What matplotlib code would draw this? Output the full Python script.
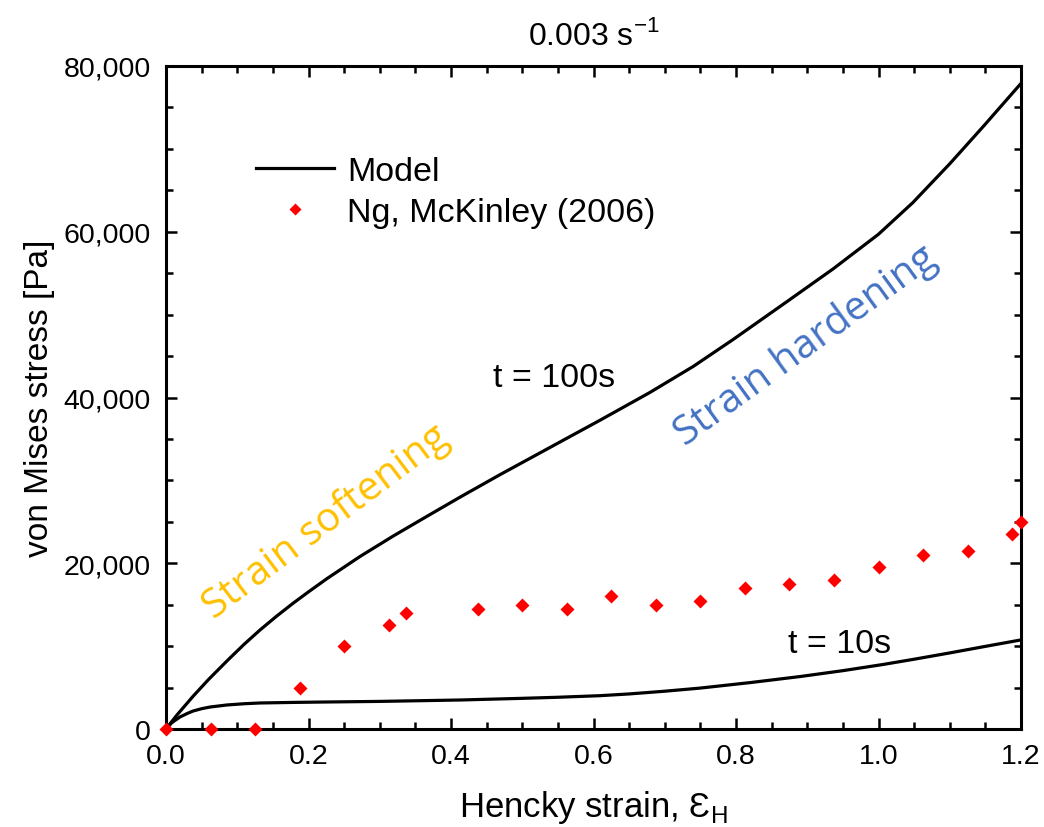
import matplotlib
matplotlib.use("Agg")
import matplotlib.pyplot as plt
from matplotlib.ticker import MultipleLocator, FuncFormatter

# ---- data ----
eps_100 = [0.0, 0.015, 0.038, 0.06, 0.086, 0.11, 0.132, 0.155, 0.178, 0.20, 0.226, 0.272,
           0.319, 0.367, 0.413, 0.469, 0.516, 0.563, 0.609, 0.679, 0.74, 0.796, 0.872,
           0.936, 1.0, 1.048, 1.10, 1.147, 1.2]
stress_100 = [0, 1650, 3950, 6000, 8250, 10250, 11950, 13600, 15150, 16550, 18150, 20800,
              23290, 25700, 27990, 30700, 32900, 35100, 37250, 40600, 43750, 47000, 51600,
              55500, 59700, 63500, 68200, 72700, 77900]

eps_10 = [0.0, 0.008, 0.0196, 0.03, 0.038, 0.05, 0.0617, 0.0856, 0.11, 0.132, 0.18, 0.226,
          0.30, 0.413, 0.5, 0.55, 0.609, 0.65, 0.70, 0.749, 0.82, 0.89, 0.95, 1.006,
          1.05, 1.10, 1.15, 1.2]
stress_10 = [0, 750, 1450, 1880, 2170, 2450, 2650, 2900, 3050, 3140, 3210, 3260,
             3330, 3500, 3700, 3830, 4020, 4230, 4560, 4930, 5600, 6330, 7040, 7780,
             8420, 9180, 9970, 10750]

eps_exp = [0.0, 0.0625, 0.125, 0.1875, 0.25, 0.3125, 0.3375, 0.4375, 0.5, 0.5625,
           0.625, 0.6875, 0.75, 0.8125, 0.875, 0.9375, 1.0, 1.0625, 1.125, 1.1875, 1.2]
stress_exp = [0, 0, 0, 5000, 10000, 12500, 14000, 14500, 15000, 14500,
              16000, 15000, 15500, 17000, 17500, 18000, 19500, 21000, 21500, 23500, 25000]

x_ticks = [0.0, 0.2, 0.4, 0.6, 0.8, 1.0, 1.2]
y_ticks = [0, 20000, 40000, 60000, 80000]

ARIAL = ['Liberation Sans', 'DejaVu Sans']
CAL = ['Open Sans', 'DejaVu Sans']

fig = plt.figure(figsize=(10.44, 8.28), dpi=100)
ax = fig.add_axes([166/1044, 1-730/828, (1021-166)/1044, (730-67)/828])

ax.plot(eps_100, stress_100, color='black', lw=2.3, label='Model', zorder=3)
ax.plot(eps_10, stress_10, color='black', lw=2.3, zorder=3)
ax.plot(eps_exp, stress_exp, linestyle='none', marker='D', ms=7.5, color='#ff0000',
        mec='none', label='Ng, McKinley (2006)', zorder=4, clip_on=False)

ax.set_xlim(0, 1.2)
ax.set_ylim(0, 80000)
ax.set_xticks(x_ticks)
ax.set_yticks(y_ticks)
ax.xaxis.set_minor_locator(MultipleLocator(0.05))
ax.yaxis.set_minor_locator(MultipleLocator(5000))
ax.xaxis.set_major_formatter(FuncFormatter(lambda v, p: f"{v:.1f}"))
ax.yaxis.set_major_formatter(FuncFormatter(lambda v, p: f"{int(v):,}"))

for s in ax.spines.values():
    s.set_linewidth(2.2)
ax.tick_params(which='both', direction='in', top=True, right=True, width=1.8)
ax.tick_params(which='major', length=8)
ax.tick_params(which='minor', length=5)
ax.tick_params(axis='x', which='major', pad=10)
ax.tick_params(axis='y', which='major', pad=11)
for lab in ax.get_xticklabels() + ax.get_yticklabels():
    lab.set_fontfamily(ARIAL)
    lab.set_fontsize(20.5)

ax.set_xlabel("Hencky strain, \u0190$_\\mathregular{H}$", fontsize=25,
              family=ARIAL, labelpad=14)
ax.set_ylabel("von Mises stress [Pa]", fontsize=24, family=ARIAL, labelpad=6)
ax.set_title("0.003 s$^\\mathregular{-1}$", fontsize=23, family=ARIAL, pad=16)

ax.text(0.545, 42470, "t = 100s", fontsize=24.5, family=ARIAL, ha='center', va='center')
ax.text(0.946, 10260, "t = 10s", fontsize=24.5, family=ARIAL, ha='center', va='center')
ax.text(0.2246, 25000, "Strain softening", fontsize=29, family=CAL, color='#FFC000',
        rotation=37, ha='center', va='center', rotation_mode='anchor')
ax.text(0.898, 46340, "Strain hardening", fontsize=29, family=CAL, color='#4472C4',
        rotation=36, ha='center', va='center', rotation_mode='anchor')

leg = ax.legend(loc='upper left', bbox_to_anchor=((256-166)/855, (730-157)/663),
                frameon=False, borderpad=0, borderaxespad=0, handlelength=2.3,
                handletextpad=0.38, labelspacing=0.3, markerscale=0.8,
                prop={'family': ARIAL, 'size': 24.5})

fig.savefig("out.png", dpi=100)
